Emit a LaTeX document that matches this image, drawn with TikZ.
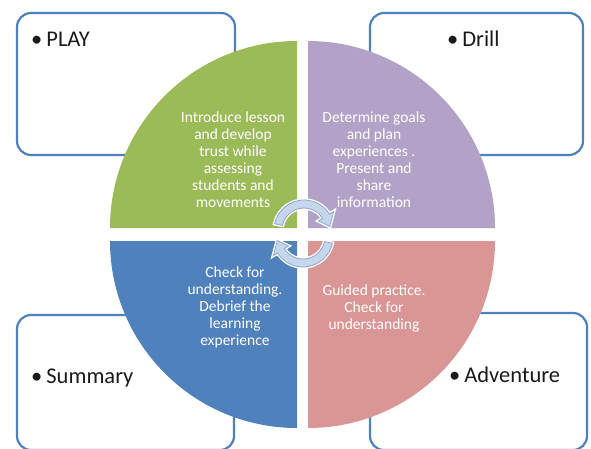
\documentclass[tikz,border=0pt]{standalone}
\usepackage{fontspec}
\setmainfont{Carlito}
\definecolor{qgreen}{HTML}{9BBB59}
\definecolor{qpurple}{HTML}{B3A2C7}
\definecolor{qblue}{HTML}{4F81BD}
\definecolor{qpink}{HTML}{D99694}
\definecolor{boxline}{HTML}{4F81BD}
\definecolor{arrfill}{HTML}{C6D6EC}
\definecolor{arrline}{HTML}{8DA9CC}
\definecolor{labeltext}{HTML}{1A1A1A}
\begin{document}
\begin{tikzpicture}[x=1pt,y=1pt,
  labelbox/.style={draw=boxline,line width=2.2pt,fill=white,rounded corners=14pt},
  label/.style={anchor=base west,inner sep=0pt,text=labeltext,font=\fontsize{22.5}{27}\selectfont},
  quadtext/.style={align=center,text=white,inner sep=0pt,font=\fontsize{15.5}{17}\selectfont},
  cyclearrow/.style={fill=arrfill,draw=arrline,line width=0.8pt,preaction={draw=white,line width=3.5pt}}]
\useasboundingbox (0,0) rectangle (591,-449);
\fill[white] (0,0) rectangle (591,-449);
% corner boxes
\draw[labelbox] (17,-13) rectangle (235,-155);
\draw[labelbox] (370,-13) rectangle (583,-155);
\draw[labelbox] (17,-315) rectangle (234,-450);
\draw[labelbox] (370,-313) rectangle (587,-450);
\node[label] (play) at (31,-47) {•\hspace{4pt}PLAY};
\node[label] (drill) at (447,-47) {•\hspace{4pt}Drill};
\node[label] (summary) at (31,-383) {•\hspace{4pt}Summary};
\node[label] (adventure) at (449,-382) {•\hspace{4pt}Adventure};
% quadrants
\fill[qgreen] (297,-228) -- (110,-228) arc[start angle=180,end angle=90,radius=187] -- cycle;
\fill[qpurple] (308,-228) -- (308,-41) arc[start angle=90,end angle=0,radius=187] -- cycle;
\fill[qblue] (297,-241) -- (297,-428) arc[start angle=270,end angle=180,radius=187] -- cycle;
\fill[qpink] (308,-241) -- (495,-241) arc[start angle=0,end angle=-90,radius=187] -- cycle;
\node[quadtext] (tgreen) at (233,-160) {Introduce lesson\\and develop\\trust while\\assessing\\students and\\movements};
\node[quadtext] (tpurple) at (374,-160) {Determine goals\\and plan\\experiences .\\Present and\\share\\information};
\node[quadtext] (tblue) at (235,-307) {Check for\\understanding.\\Debrief the\\learning\\experience};
\node[quadtext] (tpink) at (374,-308) {Guided practice.\\Check for\\understanding};
% circular arrows
\begin{scope}[shift={(304,-230)}]
\path[cyclearrow] (168:30) arc[start angle=168,end angle=32,radius=30] -- (32:35) -- (8:26) -- (32:17) -- (32:22) arc[start angle=32,end angle=168,radius=22] -- cycle;
\end{scope}
\begin{scope}[shift={(303,-237)}]
\path[cyclearrow] (-12:30) arc[start angle=-12,end angle=-148,radius=30] -- (-148:35) -- (-172:26) -- (-148:17) -- (-148:22) arc[start angle=-148,end angle=-12,radius=22] -- cycle;
\end{scope}
\end{tikzpicture}
\end{document}
